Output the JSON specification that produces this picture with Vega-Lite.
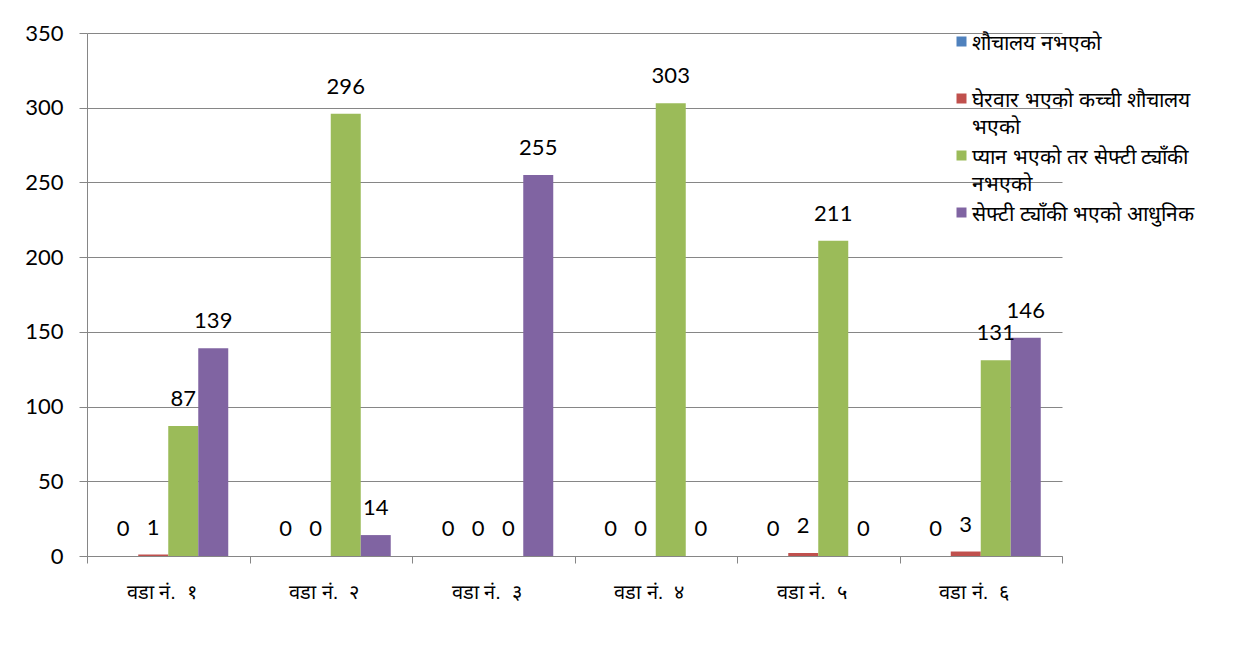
{
  "$schema": "https://vega.github.io/schema/vega-lite/v6.json",
  "width": 975,
  "height": 523,
  "autosize": "none",
  "padding": {"left": 87, "top": 33, "right": 183, "bottom": 101},
  "background": "white",
  "data": {
    "values": [
      {"ward": "वडा नं.\u00a0\u00a0१", "series": "शौचालय नभएको", "value": 0},
      {"ward": "वडा नं.\u00a0\u00a0१", "series": "घेरवार भएको कच्ची शौचालय भएको", "value": 1},
      {"ward": "वडा नं.\u00a0\u00a0१", "series": "प्यान भएको तर सेफ्टी ट्याँकी नभएको", "value": 87},
      {"ward": "वडा नं.\u00a0\u00a0१", "series": "सेफ्टी ट्याँकी भएको आधुनिक", "value": 139},
      {"ward": "वडा नं.\u00a0\u00a0२", "series": "शौचालय नभएको", "value": 0},
      {"ward": "वडा नं.\u00a0\u00a0२", "series": "घेरवार भएको कच्ची शौचालय भएको", "value": 0},
      {"ward": "वडा नं.\u00a0\u00a0२", "series": "प्यान भएको तर सेफ्टी ट्याँकी नभएको", "value": 296},
      {"ward": "वडा नं.\u00a0\u00a0२", "series": "सेफ्टी ट्याँकी भएको आधुनिक", "value": 14},
      {"ward": "वडा नं.\u00a0\u00a0३", "series": "शौचालय नभएको", "value": 0},
      {"ward": "वडा नं.\u00a0\u00a0३", "series": "घेरवार भएको कच्ची शौचालय भएको", "value": 0},
      {"ward": "वडा नं.\u00a0\u00a0३", "series": "प्यान भएको तर सेफ्टी ट्याँकी नभएको", "value": 0},
      {"ward": "वडा नं.\u00a0\u00a0३", "series": "सेफ्टी ट्याँकी भएको आधुनिक", "value": 255},
      {"ward": "वडा नं.\u00a0\u00a0४", "series": "शौचालय नभएको", "value": 0},
      {"ward": "वडा नं.\u00a0\u00a0४", "series": "घेरवार भएको कच्ची शौचालय भएको", "value": 0},
      {"ward": "वडा नं.\u00a0\u00a0४", "series": "प्यान भएको तर सेफ्टी ट्याँकी नभएको", "value": 303},
      {"ward": "वडा नं.\u00a0\u00a0४", "series": "सेफ्टी ट्याँकी भएको आधुनिक", "value": 0},
      {"ward": "वडा नं.\u00a0\u00a0५", "series": "शौचालय नभएको", "value": 0},
      {"ward": "वडा नं.\u00a0\u00a0५", "series": "घेरवार भएको कच्ची शौचालय भएको", "value": 2},
      {"ward": "वडा नं.\u00a0\u00a0५", "series": "प्यान भएको तर सेफ्टी ट्याँकी नभएको", "value": 211},
      {"ward": "वडा नं.\u00a0\u00a0५", "series": "सेफ्टी ट्याँकी भएको आधुनिक", "value": 0},
      {"ward": "वडा नं.\u00a0\u00a0६", "series": "शौचालय नभएको", "value": 0},
      {"ward": "वडा नं.\u00a0\u00a0६", "series": "घेरवार भएको कच्ची शौचालय भएको", "value": 3},
      {"ward": "वडा नं.\u00a0\u00a0६", "series": "प्यान भएको तर सेफ्टी ट्याँकी नभएको", "value": 131},
      {"ward": "वडा नं.\u00a0\u00a0६", "series": "सेफ्टी ट्याँकी भएको आधुनिक", "value": 146}
    ]
  },
  "encoding": {
    "x": {
      "field": "ward",
      "type": "nominal",
      "sort": null,
      "scale": {"paddingInner": 0, "paddingOuter": 0},
      "axis": {
        "title": null,
        "labelAngle": 0,
        "labelFontSize": 20,
        "labelColor": "black",
        "labelPadding": 19,
        "labelOffset": -7,
        "tickBand": "extent",
        "tickSize": 7,
        "tickColor": "#868686",
        "domainColor": "#868686",
        "grid": false
      }
    },
    "xOffset": {
      "field": "series",
      "type": "nominal",
      "sort": null,
      "scale": {"paddingInner": 0, "paddingOuter": 0.7083}
    },
    "y": {
      "field": "value",
      "type": "quantitative",
      "scale": {"domain": [0, 350]},
      "axis": {
        "title": null,
        "values": [0, 50, 100, 150, 200, 250, 300, 350],
        "labelFont": "Lato",
        "labelFontSize": 22,
        "labelColor": "black",
        "labelPadding": 16,
        "tickSize": 8,
        "tickColor": "#868686",
        "domainColor": "#868686",
        "gridColor": "#868686",
        "gridOpacity": 1
      }
    }
  },
  "layer": [
    {
      "mark": {"type": "bar"},
      "encoding": {
        "color": {
          "field": "series",
          "type": "nominal",
          "sort": null,
          "scale": {
            "domain": ["शौचालय नभएको", "घेरवार भएको कच्ची शौचालय भएको", "प्यान भएको तर सेफ्टी ट्याँकी नभएको", "सेफ्टी ट्याँकी भएको आधुनिक"],
            "range": ["#4F81BD", "#C0504D", "#9BBB59", "#8064A2"]
          },
          "legend": {
            "title": null,
            "orient": "none",
            "legendX": 864,
            "legendY": -2,
            "padding": 0,
            "symbolType": "square",
            "symbolSize": 100,
            "symbolStrokeWidth": 0,
            "labelFontSize": 21,
            "labelColor": "black",
            "labelOffset": 0,
            "labelLimit": 400,
            "labelBaseline": "top",
            "rowPadding": 7,
            "labelExpr": "datum.label == 'घेरवार भएको कच्ची शौचालय भएको' ? ['घेरवार भएको कच्ची शौचालय', 'भएको'] : datum.label == 'प्यान भएको तर सेफ्टी ट्याँकी नभएको' ? ['प्यान भएको तर सेफ्टी ट्याँकी', 'नभएको'] : [datum.label, ' ']",
            "encode": {
              "labels": {"update": {"lineHeight": {"value": 27}, "dy": {"value": -9}}}
            }
          }
        }
      }
    },
    {
      "mark": {"type": "text", "baseline": "alphabetic", "dy": -20, "fontSize": 22, "font": "Lato", "color": "black"},
      "encoding": {"text": {"field": "value", "type": "quantitative"}}
    }
  ],
  "config": {"view": {"stroke": null}}
}
